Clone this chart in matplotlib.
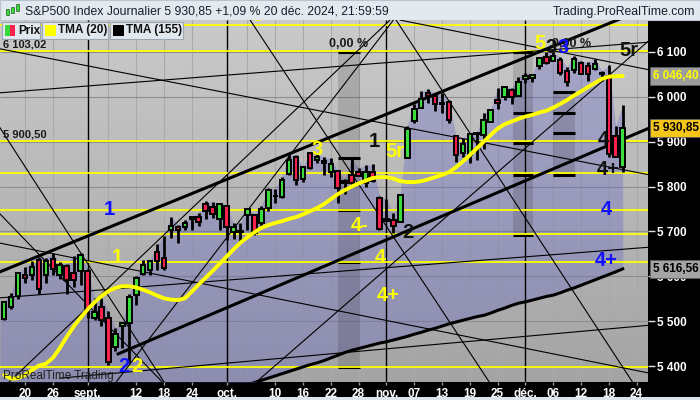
import numpy as np
import pandas as pd
import matplotlib
matplotlib.use("Agg")
import matplotlib.pyplot as plt
from matplotlib.patches import Rectangle
from matplotlib.colors import LinearSegmentedColormap
from matplotlib.transforms import blended_transform_factory

plt.rcParams['font.family'] = ['Liberation Sans', 'DejaVu Sans']

# ---------------- data ----------------
first_day = '2024-08-15'
holidays = ['2024-09-02', '2024-11-28', '2024-12-25']

opens = [5504, 5531, 5557, 5603, 5603, 5637, 5603, 5639, 5602, 5624, 5607, 5612,
         5612, 5507, 5531, 5507, 5443, 5490, 5496, 5558, 5605, 5615, 5655, 5641, 5703, 5709, 5711, 5727, 5733, 5762, 5755, 5727,
         5757, 5698, 5698, 5737, 5737, 5719, 5752, 5778, 5776, 5829, 5866, 5816, 5875, 5860, 5858, 5833, 5834, 5813, 5826, 5833, 5808, 5832, 5775,
         5723, 5725, 5722, 5864, 5947, 5976, 6008, 6003, 5985, 5989, 5912, 5875, 5870, 5917, 5914, 5944, 5992, 6000, 6015, 6003,
         6040, 6042, 6069, 6089, 6081, 6083, 6057, 6060, 6075, 6068, 6063, 6053, 6047, 5912, 5843]
highs = [5546, 5563, 5608, 5620, 5633, 5643, 5641, 5651, 5631, 5627, 5646, 5651,
         5617, 5552, 5552, 5523, 5484, 5497, 5560, 5600, 5637, 5636, 5671, 5690, 5733, 5715, 5725, 5735, 5742, 5767, 5765, 5763,
         5757, 5719, 5718, 5752, 5739, 5757, 5796, 5795, 5822, 5871, 5870, 5843, 5878, 5872, 5866, 5863, 5834, 5817, 5862, 5842, 5847, 5850, 5780,
         5772, 5741, 5783, 5936, 5983, 6012, 6017, 6009, 6008, 5993, 5915, 5908, 5920, 5920, 5963, 5972, 6020, 6025, 6020, 6044,
         6053, 6052, 6089, 6099, 6099, 6089, 6066, 6092, 6079, 6078, 6085, 6058, 6070, 5936, 5982]
lows = [5502, 5528, 5550, 5585, 5592, 5560, 5585, 5602, 5593, 5561, 5576, 5581,
        5507, 5503, 5490, 5402, 5434, 5441, 5406, 5536, 5604, 5604, 5614, 5615, 5686, 5674, 5704, 5703, 5713, 5727, 5730, 5704,
        5681, 5684, 5677, 5703, 5691, 5709, 5745, 5764, 5775, 5825, 5804, 5810, 5840, 5853, 5825, 5821, 5763, 5784, 5799, 5823, 5798, 5811, 5703,
        5723, 5696, 5722, 5864, 5942, 5976, 5986, 5969, 5965, 5942, 5854, 5866, 5853, 5860, 5883, 5944, 5973, 5993, 5985, 6003,
        6031, 6034, 6061, 6074, 6079, 6048, 6024, 6054, 6051, 6036, 6059, 6035, 5867, 5866, 5832]
closes = [5543, 5554, 5608, 5597, 5620, 5571, 5635, 5616, 5625, 5592, 5591, 5648,
          5528, 5520, 5503, 5408, 5471, 5496, 5554, 5596, 5626, 5633, 5634, 5618, 5713, 5703, 5718, 5732, 5722, 5745, 5738, 5762,
          5709, 5709, 5699, 5751, 5696, 5751, 5792, 5780, 5815, 5859, 5815, 5843, 5841, 5865, 5853, 5851, 5797, 5809, 5808, 5823, 5832, 5813, 5705,
          5728, 5712, 5782, 5929, 5973, 5996, 6001, 5984, 5985, 5949, 5871, 5894, 5917, 5918, 5949, 5970, 5987, 6021, 5999, 6032,
          6047, 6049, 6087, 6075, 6090, 6053, 6034, 6085, 6051, 6051, 6074, 6050, 5872, 5867, 5931]

# TMA(20), one value per trading day from first_day
tma20 = [5380, 5372, 5373, 5380, 5391, 5401, 5405, 5418, 5440, 5465, 5488, 5508, 5526,
         5542, 5556, 5567, 5574, 5578, 5578, 5575, 5570, 5564, 5557, 5551, 5548, 5547, 5551,
         5566, 5582, 5597, 5612, 5628, 5644, 5660, 5675, 5687, 5698, 5708, 5714, 5719, 5723,
         5728, 5732, 5738, 5745, 5752, 5761, 5772, 5783, 5792, 5800, 5807, 5813, 5819, 5821,
         5821, 5818, 5812, 5810, 5810, 5812, 5816, 5821, 5826, 5832, 5843, 5856, 5870, 5885,
         5900, 5915, 5929, 5939, 5945, 5951, 5956, 5960, 5965, 5969, 5976, 5984, 5993, 6003,
         6012, 6022, 6031, 6040, 6045, 6046, 6046.4]
# TMA(155), visible part, one value per trading day from tma155_start
tma155_start = '2024-10-02'
tma155 = [5350, 5355, 5359, 5363, 5368, 5373, 5378, 5383, 5388, 5393, 5398, 5403, 5407, 5412,
          5418, 5424, 5430, 5435, 5439, 5443, 5447, 5451, 5454, 5458, 5462, 5466, 5471, 5475,
          5480, 5484, 5489, 5494, 5498, 5502, 5506, 5510, 5513, 5518, 5524, 5529, 5535, 5540,
          5543, 5547, 5551, 5555, 5558, 5563, 5569, 5574, 5580, 5586, 5592, 5598, 5604, 5610, 5616.56]

tick_dates = ['2024-08-20', '2024-08-26', '2024-09-03', '2024-09-12', '2024-09-18', '2024-09-24',
              '2024-10-01', '2024-10-10', '2024-10-16', '2024-10-22', '2024-10-28', '2024-11-01',
              '2024-11-07', '2024-11-13', '2024-11-19', '2024-11-25', '2024-12-02', '2024-12-06',
              '2024-12-12', '2024-12-18', '2024-12-24']
tick_labels = ['20', '26', 'sept.', '12', '18', '24', 'oct.', '10', '16', '22', '28', 'nov.',
               '07', '13', '19', '25', 'déc.', '06', '12', '18', '24']
month_starts = ['2024-09-03', '2024-10-01', '2024-11-01', '2024-12-02']
extra_grid_dates = ['2024-09-06', '2024-10-04']
y_ticks = [5400, 5500, 5600, 5700, 5800, 5900, 6000, 6100]

yellow_levels = [6160, 6103.02, 5900.50, 5830, 5748, 5694, 5632, 5398]

# drawn trend lines (trading-day index from first_day, price)
line_x0 = [-0.6, 16.4, -0.6, -0.6, -0.6, -0.6, 8.0, -0.6, -0.6, 35.4, 56.4, 36.1, 16.0, 0.55, 57.0]
line_y0 = [5610, 5427, 6107, 6009, 5674, 5552, 5373, 5931, 5739, 6171, 6171, 5362, 5362, 5362, 6171]
line_x1 = [89.3, 92.9, 92.9, 92.9, 92.9, 92.9, 92.9, 23.1, 22.9, 69.9, 90.5, 92.9, 56.0, 55.5, 92.9]
line_y1 = [6178, 5931, 5826, 6122, 5384, 5665, 5491, 5362, 5362, 5362, 5362, 6127, 6171, 6171, 6060]
line_thick = [1, 1, 0, 0, 0, 0, 0, 0, 0, 0, 0, 0, 0, 0, 0]

# Fibonacci-style time bands: start idx, end idx, top price, bottom price
band_x0 = [48.0, 73.2, 79.0]
band_x1 = [51.2, 76.1, 82.1]
band_top = [6100, 6100, 6011]
band_bot = [5398, 5690, 5826]
band_marks = [[6100, 5864, 5748, 5632, 5398],
              [6100, 5964, 5897, 5826, 5692],
              [6011, 5964, 5919, 5826]]

# wave labels
wave_text = ['1', '1', '2', '2', '3', '1', '5r', '4-', '2', '4', '4+', '4', '4+', '4', '4+', '5r', '5', '3', '3', '3']
wave_color = ['blue', 'yellow', 'blue', 'yellow', 'yellow', 'black', 'yellow', 'yellow', 'black', 'yellow', 'yellow',
              'black', 'black', 'blue', 'blue', 'black', 'yellow', 'black', 'blue', 'yellow']
wave_x = [15.2, 16.3, 17.2, 19.1, 45.1, 53.2, 56.2, 51.2, 58.1, 54.1, 55.2, 86.2, 86.9, 86.6, 86.6, 89.9, 77.1, 78.7, 80.4, 36.4]
wave_y = [5748, 5643, 5398, 5398, 5882, 5900, 5878, 5714, 5697, 5641, 5558, 5904, 5837, 5748, 5636, 6104, 6118, 6111, 6111, 6181]

# ---------------- layout ----------------
W, H = 700, 400
def fx(px):
    return px / W
def fy(py):
    return 1 - py / H

cal = pd.bdate_range(first_day, '2024-12-31')
cal = cal[~cal.isin(pd.to_datetime(holidays))]
pos = {d.strftime('%Y-%m-%d'): i for i, d in enumerate(cal)}

n = len(closes)
k = np.arange(n)
opens = np.array(opens, float); highs = np.array(highs, float)
lows = np.array(lows, float); closes = np.array(closes, float)

XMIN, XMAX = -0.6, 92.64
YMIN, YMAX = 5364.4, 6171.3

fig = plt.figure(figsize=(7, 4), dpi=100, facecolor='#dde4eb')
ax = fig.add_axes([0, fy(382), fx(648), (382 - 20) / H])

# outer black bands (price axis & date axis)
fig.patches.append(Rectangle((fx(648), fy(397)), fx(52), (397 - 20) / H, transform=fig.transFigure,
                             facecolor='black', edgecolor='none', zorder=-5))
fig.patches.append(Rectangle((0, fy(397)), 1, (397 - 382) / H, transform=fig.transFigure,
                             facecolor='black', edgecolor='none', zorder=-5))

# background gradient
grad = np.linspace(0, 1, 256).reshape(-1, 1)
cmap_bg = LinearSegmentedColormap.from_list('bg', ['#cacaca', '#a4a4a4'])
ax.imshow(grad, extent=[XMIN, XMAX, YMIN, YMAX], aspect='auto', cmap=cmap_bg,
          origin='upper', zorder=0, interpolation='bilinear')

# grid
grid_pos = [pos[d] for d in tick_dates if d not in month_starts] + [pos[d] for d in extra_grid_dates]
ax.vlines(grid_pos, YMIN, YMAX, color='#a9a9a9', lw=0.8, zorder=1)
ax.hlines(y_ticks, XMIN, XMAX, color='#8e8e8e', lw=0.8, zorder=1)

# lavender area between price and TMA(155)
t155 = np.full(n, np.nan)
s155 = pos[tma155_start]
t155[s155:s155 + len(tma155)] = tma155
lower = np.where(np.isnan(t155), YMIN, t155)
ax.fill_between(np.r_[XMIN, k], np.r_[lower[0], lower], np.r_[highs[0], highs],
                color='#5f5fc8', alpha=0.32, lw=0, zorder=1.2)

# bands
for x0, x1, pt, pb, marks in zip(band_x0, band_x1, band_top, band_bot, band_marks):
    ax.add_patch(Rectangle((x0, pb), x1 - x0, pt - pb, facecolor='black', alpha=0.13,
                           lw=0, zorder=1.5))
    ax.hlines(marks, x0, x1, color='black', lw=2.2, zorder=1.6)
ax.vlines((band_x0[0] + band_x1[0]) / 2 + 0.5, 5830, 5864, color='black', lw=1.5, zorder=1.6)

# month separators
ax.vlines([pos[d] for d in month_starts], YMIN, YMAX, color='black', lw=1.0, zorder=2)

# yellow levels
for lv in yellow_levels:
    ax.axhline(lv, color='#ffff00', lw=1.3, zorder=2.2)

# trend lines
for x0, y0, x1, y1, th in zip(line_x0, line_y0, line_x1, line_y1, line_thick):
    ax.plot([x0, x1], [y0, y1], color='black', lw=2.2 if th else 0.8, zorder=2.5)

# TMA 155
ax.plot(k[s155:s155 + len(tma155)], tma155, color='black', lw=2.2, zorder=3)

# candles
up = closes >= opens
body_lo = np.minimum(opens, closes)
body_h = np.maximum(np.abs(closes - opens), 2.0)
ax.vlines(k, lows, highs, color='black', lw=2.0, zorder=3.9)
ax.bar(k, body_h, bottom=body_lo, width=0.66,
       color=np.where(up, '#3cdc3c', '#f8204c'), edgecolor='black', linewidth=1.4, zorder=4)

# TMA 20
ax.plot(k[:len(tma20)], tma20, color='#ffff00', lw=2.8, zorder=4.5, solid_capstyle='round')

# wave labels
cmap_txt = {'blue': '#1010ff', 'yellow': '#ffff00', 'black': '#111111'}
for t, c, x, y in zip(wave_text, wave_color, wave_x, wave_y):
    ax.text(x, y, t, color=cmap_txt[c], fontsize=14.5, fontweight='bold', ha='center', va='center',
            zorder=6, clip_on=True)

tr = blended_transform_factory(ax.transAxes, ax.transData)
ax.text(0.004, 6103.02 + 2, '6 103,02', transform=tr, fontsize=8, fontweight='bold', color='#1a1a1a',
        va='bottom', ha='left', zorder=6)
ax.text(0.004, 5900.50 + 4, '5 900,50', transform=tr, fontsize=8, fontweight='bold', color='#1a1a1a',
        va='bottom', ha='left', zorder=6)
ax.text(49.6, 6118, '0,00 %', fontsize=9, fontweight='bold', color='#1a1a1a', ha='center', va='center', zorder=6)
ax.text(81.6, 6118, '0,00 %', fontsize=9, fontweight='bold', color='#1a1a1a', ha='center', va='center', zorder=5.5)
ax.text(0.004, 0.016, 'ProRealTime Trading', transform=ax.transAxes, fontsize=8.5, color='#202020',
        ha='left', va='center', zorder=6)

# axes formatting
ax.set_xlim(XMIN, XMAX)
ax.set_ylim(YMIN, YMAX)
for sp in ax.spines.values():
    sp.set_visible(False)
ax.yaxis.tick_right()
ax.set_yticks(y_ticks)
ax.set_yticklabels([f'{v:,}'.replace(',', ' ') for v in y_ticks])
ax.tick_params(axis='y', colors='#e0e0e0', labelcolor='white', labelsize=8.5, length=5, width=1, pad=1.5)
ax.set_xticks([pos[d] for d in tick_dates])
ax.set_xticklabels(tick_labels)
ax.tick_params(axis='x', colors='#9a9a9a', labelcolor='white', labelsize=8.5, length=2, width=1, pad=2.5)
for lbl in ax.get_xticklabels() + ax.get_yticklabels():
    lbl.set_fontweight('bold')

# right-axis value tags
tags = [('6 046,40', 6046.40, '#9c9c9c', '#ffff00'),
        ('5 930,85', 5930.85, '#f5c518', '#000000'),
        ('5 616,56', 5616.56, '#a4a4a4', '#000000')]
for txt, val, bg, fg in tags:
    ax.text(1.008, val, txt, transform=tr, color=fg, fontsize=8.5, fontweight='bold', ha='left', va='center',
            bbox=dict(boxstyle='square,pad=0.25', fc=bg, ec='#606060', lw=0.6), clip_on=False, zorder=10)

# header
fig.patches.append(Rectangle((0, fy(20)), 1, 20 / H, transform=fig.transFigure,
                             facecolor='#e3e9ef', edgecolor='#b8c4d0', lw=0.8, zorder=-4))
fig.text(fx(25), fy(11.5), 'S&P500 Index Journalier 5 930,85 +1,09 % 20 déc. 2024, 21:59:59',
         fontsize=8.8, color='#14202c', ha='left', va='center')
fig.text(fx(695), fy(11.5), 'Trading.ProRealTime.com', fontsize=8.8, color='#14202c', ha='right', va='center')
for cx, cy, ch, col in [(6, 9, 6, '#38d838'), (11, 7, 6, '#38d838'), (16, 4, 7, '#38d838')]:
    fig.patches.append(Rectangle((fx(cx), fy(cy + ch)), fx(3), ch / H, transform=fig.transFigure,
                                 facecolor=col, edgecolor='#206020', lw=0.5, zorder=5))

# legend boxes
legend_items = [('Prix', 2, 40), ('TMA (20)', 42, 108), ('TMA (155)', 110, 183)]
for name, x0, x1 in legend_items:
    fig.patches.append(Rectangle((fx(x0), fy(39)), fx(x1 - x0), 17 / H, transform=fig.transFigure,
                                 facecolor='#e2e8ee', edgecolor='#9aa6b2', lw=0.8, zorder=5))
    fig.text(fx(x0 + 16), fy(30.5), name, fontsize=8.5, fontweight='bold', color='#101010',
             ha='left', va='center', zorder=6)
fig.patches.append(Rectangle((fx(5), fy(36)), fx(5), 11 / H, transform=fig.transFigure,
                             facecolor='#38d838', edgecolor='none', zorder=6))
fig.patches.append(Rectangle((fx(10), fy(36)), fx(5), 11 / H, transform=fig.transFigure,
                             facecolor='#f8204c', edgecolor='none', zorder=6))
fig.patches.append(Rectangle((fx(45), fy(36)), fx(11), 11 / H, transform=fig.transFigure,
                             facecolor='#ffff00', edgecolor='none', zorder=6))
fig.patches.append(Rectangle((fx(113), fy(36)), fx(11), 11 / H, transform=fig.transFigure,
                             facecolor='#000000', edgecolor='none', zorder=6))

fig.savefig('out.png', dpi=100, facecolor=fig.get_facecolor())
